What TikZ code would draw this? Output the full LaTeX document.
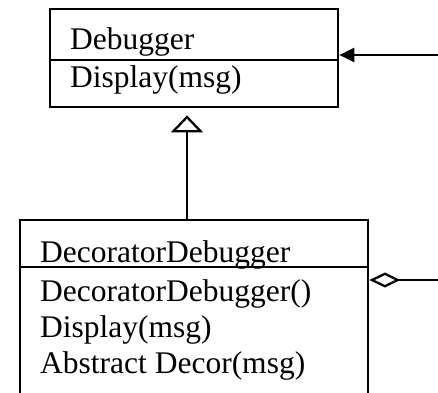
\documentclass[tikz,border=0pt]{standalone}
\usepackage{fontspec}
\setmainfont{Liberation Serif}
\usetikzlibrary{arrows.meta}
\begin{document}
\begin{tikzpicture}[x=1pt,y=-1pt,
  classbox/.style={draw, line width=2.7pt, inner sep=0pt},
  member/.style={anchor=base west, inner sep=0pt, font=\fontsize{31.5}{36}\selectfont},
  connector/.style={line width=2.3pt},
  divider/.style={line width=2.7pt}]
\useasboundingbox (0,0) rectangle (438,392);
\clip (0,0) rectangle (438,392);

% class boxes
\node[classbox, minimum width=288pt, minimum height=98pt] (dbg) at (194,58) {};
\node[classbox, minimum width=348pt, minimum height=200pt] (dec) at (194,320) {};

% compartment dividers
\draw[divider] (dbg.west |- 0,60) -- (dbg.east |- 0,60);
\draw[divider] (dec.west |- 0,267) -- (dec.east |- 0,267);

% class names and operations
\node[member] (dbgname) at (70,49) {Debugger};
\node[member] (dbgop) at (70,87) {Display(msg)};
\node[member] (decname) at (40,262) {DecoratorDebugger};
\node[member] (decop1) at (40,301) {DecoratorDebugger()};
\node[member] (decop2) at (40,337) {Display(msg)};
\node[member] (decop3) at (40,373) {Abstract Decor(msg)};

% incoming association
\coordinate (src) at (442,55);
\draw[connector, -{Triangle[length=15pt,width=14pt]}] (src) -- (src -| dbg.east);

% generalization
\coordinate (axis) at (187,0);
\draw[connector, shorten >=7pt, -{Triangle[open, length=17pt, width=32pt, line width=2.3pt]}]
  (dec.north -| axis) -- (dbg.south -| axis);

% aggregation
\coordinate (agg) at (442,280);
\draw[connector, {Diamond[open, length=31pt, width=15pt, line width=2.3pt]}-]
  (dec.east |- agg) -- (agg);
\end{tikzpicture}
\end{document}
